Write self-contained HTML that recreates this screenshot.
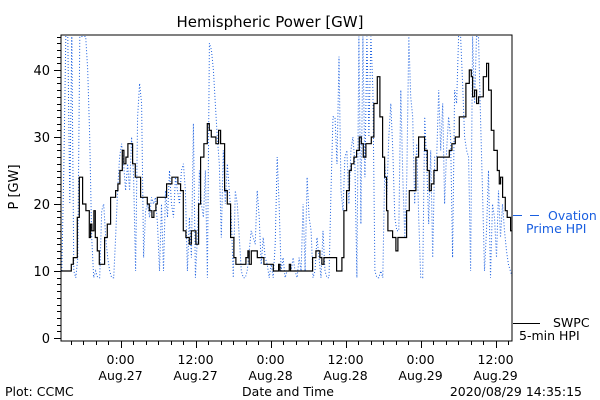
<!DOCTYPE html>
<html><head><meta charset="utf-8">
<style>
html,body{margin:0;padding:0;background:#fff;}
svg{display:block;font-family:"DejaVu Sans","Liberation Sans",sans-serif;}
</style></head>
<body>
<svg id="chart" width="600" height="400" viewBox="0 0 600 400" xmlns="http://www.w3.org/2000/svg">
<defs><clipPath id="clip"><rect x="61" y="35" width="451" height="306"/></clipPath></defs>
<rect x="0" y="0" width="600" height="400" fill="#fff"/>
<text x="270" y="27" font-size="15" text-anchor="middle">Hemispheric Power [GW]</text>
<text x="0" y="0" font-size="13" text-anchor="middle" transform="translate(18,187) rotate(-90)">P [GW]</text>
<g id="ticks"></g>
<g id="series" clip-path="url(#clip)"></g>
<rect x="61" y="35" width="451" height="306" fill="none" stroke="#000" stroke-width="1"/>
<g>
<line x1="513" y1="215.5" x2="540" y2="215.5" stroke="#1a5fe0" stroke-width="1" stroke-dasharray="9,8"/>
<text x="548" y="220" font-size="12.5" fill="#1a5fe0">Ovation</text>
<text x="526" y="233" font-size="12.5" fill="#1a5fe0">Prime HPI</text>
<line x1="513" y1="323.5" x2="540" y2="323.5" stroke="#000" stroke-width="1"/>
<text x="553" y="327" font-size="12.5">SWPC</text>
<text x="519" y="340" font-size="12.5">5-min HPI</text>
</g>
<text x="5" y="396" font-size="12.5">Plot: CCMC</text>
<text x="288" y="396" font-size="12.5" text-anchor="middle">Date and Time</text>
<text x="582" y="396" font-size="12.5" text-anchor="end">2020/08/29 14:35:15</text>
</svg>
<script>
// hours relative to 2020-08-27 00:00
const xTickHours = [0, 12, 24, 36, 48, 60];
const xTickTimes = ["0:00","12:00","0:00","12:00","0:00","12:00"];
const xTickDates = ["Aug.27","Aug.27","Aug.28","Aug.28","Aug.29","Aug.29"];
const yTickValues = [0, 10, 20, 30, 40];
const swpcTimes = [-9.5,-8.11,-7.89,-7.57,-7.25,-6.93,-6.61,-6.29,-6.08,-5.76,-5.55,-5.33,-5.01,-4.8,-4.59,-4.27,-4.05,-3.73,-3.41,-2.88,-2.56,-2.13,-1.6,-1.07,-0.8,-0.43,-0.11,0.27,0.53,0.85,1.17,1.6,1.92,2.35,2.77,3.2,3.63,4.27,4.59,5.01,5.33,5.65,5.87,6.72,7.36,7.79,8.21,8.75,9.17,9.6,10.03,10.45,10.99,11.31,11.73,12.05,12.48,12.8,13.33,13.87,14.19,14.51,14.93,15.25,15.68,16,16.64,17.07,17.6,18.13,18.45,19.73,20.05,20.37,20.59,20.91,21.55,21.87,22.61,22.93,23.89,24.21,24.43,25.07,25.28,25.49,26.67,26.99,27.2,28.8,30.29,30.72,31.25,31.57,31.89,32.21,32.53,33.92,34.56,35.09,35.41,35.73,36.16,36.59,36.91,37.33,37.76,38.19,38.51,38.83,39.25,39.68,40.11,40.53,41.07,41.49,41.92,42.24,42.56,42.77,43.52,44.05,44.37,44.8,45.33,45.76,46.19,46.72,47.25,47.68,48.21,48.64,49.07,49.39,49.71,50.13,50.67,51.84,52.27,52.59,53.01,53.55,54.19,54.72,55.25,55.79,56.11,56.32,56.64,56.96,57.28,57.71,58.03,58.56,58.88,59.31,59.73,60.27,60.59,60.8,61.12,61.55,61.87,62.4,62.77];
const swpcValues = [10,10,11,12,12,18,24,24,20,20,19,19,15,17,16,19,15,13,11,11,15,17,21,21,22,23,25,28,26,27,29,29,26,24,24,21,21,20,19,18,19,20,21,21,23,23,24,24,23,22,16,15,14,16,16,14,20,27,29,32,31,30,30,29,31,29,22,20,15,12,11,11,12,13,11,13,13,12,12,11,11,11,10,10,11,10,10,11,10,10,10,12,13,13,12,11,12,12,10,10,12,19,22,25,26,27,28,30,29,27,29,29,30,35,39,33,27,24,19,16,15,13,15,15,15,19,22,22,27,30,30,28,25,22,23,25,27,27,27,28,29,30,33,33,38,40,39,36,37,35,36,36,39,41,37,31,28,25,23,24,21,19,18,16,15];
const ovationValues = [10,25,45,45,20,45,10,9,12,45,45,45,45,40,30,15,9,10,9,9,19,20,15,12,10,9,9,15,22,27,29,26,22,26,22,30,24,10,33,38,35,12,19,20,18,21,20,21,17,10,20,10,22,18,25,20,18,24,22,20,25,26,22,10,18,12,32,9,15,25,20,18,25,9,44,43,40,35,30,26,15,28,20,26,22,18,9,22,20,15,10,9,9,10,13,16,15,14,22,18,11,15,12,11,9,11,9,14,27,20,10,12,9,10,10,10,12,10,9,12,10,20,10,24,18,16,9,10,15,12,9,16,10,9,9,22,33,33,26,42,22,19,27,28,20,28,30,26,9,45,17,45,24,45,30,45,37,10,9,9,10,9,26,21,30,35,28,18,16,16,37,24,15,24,45,36,33,20,29,18,9,9,33,26,17,28,12,27,27,37,28,35,20,28,33,30,12,37,35,45,45,38,30,28,27,10,45,35,45,45,33,22,10,16,25,9,20,18,12,22,15,20,16,13,11,10,9];
const ovationStart = -9.4, ovationEnd = 62.7;

const X0 = 61, X1 = 512, H0 = -9.53, H1 = 62.63;
const Y0 = 338, YS = 6.7;
const xs = h => X0 + (h - H0) / (H1 - H0) * (X1 - X0);
const ys = v => Y0 - v * YS;
const NS = "http://www.w3.org/2000/svg";
const tg = document.getElementById('ticks');
const sg = document.getElementById('series');
function mk(tag, attrs, parent){const e=document.createElementNS(NS,tag);for(const k in attrs)e.setAttribute(k,attrs[k]);parent.appendChild(e);return e;}

// y minor ticks every 1 unit
for(let v=0; v<=45; v++){
  const y = Math.round(ys(v))+0.5;
  const major = v%10===0;
  const t = mk('line',{x1:major?54:57,x2:61,y1:y,y2:y,stroke:'#000','stroke-width':1},tg);
  
  
}
yTickValues.forEach(v=>{
  const t = mk('text',{x:50,y:ys(v)+5,'font-size':13,'text-anchor':'end'},tg);
  t.textContent = v;
  
  
});
// x ticks every 2h
for(let h=-8; h<=62; h+=2){
  const x = Math.round(xs(h))+0.5;
  const major = h%12===0;
  const t = mk('line',{x1:x,x2:x,y1:341,y2:major?348:345,stroke:'#000','stroke-width':1},tg);
  
  
}
xTickHours.forEach((h,i)=>{
  const a = mk('text',{x:xs(h),y:364,'font-size':12.5,'text-anchor':'middle'},tg);
  a.textContent = xTickTimes[i];
  
  
  const b = mk('text',{x:xs(h),y:380,'font-size':12.5,'text-anchor':'middle'},tg);
  b.textContent = xTickDates[i];
  
  
});
// Ovation series (dotted)
const step = (ovationEnd - ovationStart) / (ovationValues.length - 1);
const op = ovationValues.map((v,i)=>xs(ovationStart+i*step).toFixed(1)+','+ys(v).toFixed(1)).join(' ');
const ol = mk('polyline',{points:op,fill:'none',stroke:'#1a5fe0','stroke-width':1,'stroke-dasharray':'1,2'},sg);


// SWPC series (stepped)
let pts = [];
swpcTimes.forEach((h,i)=>{
  if(i>0) pts.push(xs(h).toFixed(1)+','+ys(swpcValues[i-1]).toFixed(1));
  pts.push(xs(h).toFixed(1)+','+ys(swpcValues[i]).toFixed(1));
});
const sl = mk('polyline',{points:pts.join(' '),fill:'none',stroke:'#000','stroke-width':1.2},sg);


</script>
</body></html>
